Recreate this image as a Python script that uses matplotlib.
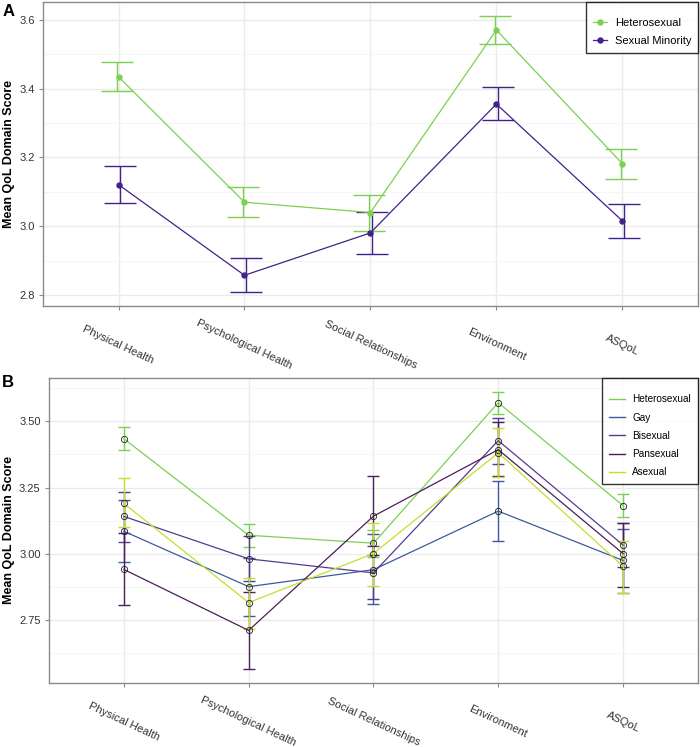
import numpy as np
import matplotlib
matplotlib.use("Agg")
import matplotlib.pyplot as plt
from matplotlib.ticker import MultipleLocator, FormatStrFormatter
from matplotlib.lines import Line2D

plt.rcParams['font.family'] = ['Liberation Sans', 'DejaVu Sans']

domains = ["Physical Health", "Psychological Health", "Social Relationships",
           "Environment", "ASQoL"]

# panel A: heterosexual vs sexual minority
het_mean = [3.434, 3.070, 3.040, 3.570, 3.182]
het_lo = [3.392, 3.027, 2.987, 3.529, 3.138]
het_hi = [3.477, 3.113, 3.090, 3.611, 3.225]
min_mean = [3.121, 2.858, 2.981, 3.355, 3.016]
min_lo = [3.069, 2.809, 2.920, 3.308, 2.966]
min_hi = [3.175, 2.907, 3.042, 3.403, 3.064]

# panel B: each orientation
gay_mean = [3.085, 2.876, 2.940, 3.161, 2.975]
gay_lo = [2.970, 2.765, 2.810, 3.048, 2.853]
gay_hi = [3.204, 2.985, 3.076, 3.276, 3.094]
bi_mean = [3.141, 2.981, 2.928, 3.427, 3.033]
bi_lo = [3.045, 2.896, 2.830, 3.340, 2.950]
bi_hi = [3.235, 3.066, 3.030, 3.513, 3.117]
pan_mean = [2.941, 2.711, 3.142, 3.393, 3.001]
pan_lo = [2.806, 2.565, 2.996, 3.293, 2.876]
pan_hi = [3.079, 2.857, 3.293, 3.496, 3.117]
ase_mean = [3.190, 2.816, 3.001, 3.381, 2.953]
ase_lo = [3.102, 2.715, 2.878, 3.290, 2.853]
ase_hi = [3.287, 2.907, 3.117, 3.475, 3.050]

C_HET = '#7AD151'
C_MIN = '#41228A'
C_GAY = '#3D5A9C'
C_BI = '#573A92'
C_PAN = '#4E1D5C'
C_ASE = '#C4DF2B'

x = np.arange(1, len(domains) + 1)


def style_axes(ax, minor_step):
    ax.set_xlim(0.4, len(domains) + 0.6)
    ax.set_xticks(x)
    ax.set_xticklabels(domains, rotation=-25, ha='center', va='center',
                       rotation_mode='default')
    ax.yaxis.set_minor_locator(MultipleLocator(minor_step))
    ax.grid(which='major', color='#EBEBEB', linewidth=1.0)
    ax.grid(which='minor', color='#F4F4F4', linewidth=0.6)
    ax.set_axisbelow(True)
    for s in ax.spines.values():
        s.set_color('#8A8A8A')
        s.set_linewidth(1.0)
    ax.tick_params(axis='both', which='major', length=3, color='#8A8A8A',
                   labelsize=8, labelcolor='#333333')
    ax.tick_params(axis='x', pad=25)
    ax.tick_params(axis='y', pad=3)
    ax.tick_params(which='minor', length=0)
    ax.set_ylabel('Mean QoL Domain Score', fontsize=9, fontweight='bold',
                  labelpad=3)


def set_ylim(ax, lows, highs):
    lo = min(min(l) for l in lows)
    hi = max(max(h) for h in highs)
    pad = 0.05 * (hi - lo)
    ax.set_ylim(lo - pad, hi + pad)


def frame_legend(leg):
    leg.get_frame().set_edgecolor('black')
    leg.get_frame().set_linewidth(1.0)


fig = plt.figure(figsize=(7, 7.47), dpi=100)

# ---- panel A
axA = fig.add_axes([0.0614, 0.5904, 0.9356, 0.4069])
groupsA = [("Heterosexual", het_mean, het_lo, het_hi, C_HET, -0.012),
           ("Sexual Minority", min_mean, min_lo, min_hi, C_MIN, 0.012)]
for name, m, lo, hi, col, dx in groupsA:
    m = np.array(m)
    err = [m - np.array(lo), np.array(hi) - m]
    axA.errorbar(x + dx, m, yerr=err, fmt='none', ecolor=col, elinewidth=1.0,
                 capsize=11.3, capthick=1.0, zorder=2)
    axA.plot(x, m, color=col, linewidth=0.9, marker='o', markersize=3.6,
             zorder=3)
style_axes(axA, 0.1)
axA.yaxis.set_major_locator(MultipleLocator(0.2))
set_ylim(axA, [het_lo, min_lo], [het_hi, min_hi])
handlesA = [Line2D([], [], color=c, linewidth=0.9, marker='o', markersize=3.6)
            for c in (C_HET, C_MIN)]
legA = axA.legend(handlesA, [g[0] for g in groupsA], loc='upper right',
                  fontsize=8, frameon=True, fancybox=False, borderaxespad=0,
                  handlelength=1.3, handletextpad=0.7, borderpad=0.6,
                  labelspacing=0.75, title=' ', title_fontsize=1.5)
frame_legend(legA)
fig.text(0.003, 0.995, 'A', fontsize=12, fontweight='bold', va='top',
         ha='left')

# ---- panel B
axB = fig.add_axes([0.070, 0.0857, 0.927, 0.4083])
groupsB = [("Heterosexual", het_mean, het_lo, het_hi, C_HET),
           ("Gay", gay_mean, gay_lo, gay_hi, C_GAY),
           ("Bisexual", bi_mean, bi_lo, bi_hi, C_BI),
           ("Pansexual", pan_mean, pan_lo, pan_hi, C_PAN),
           ("Asexual", ase_mean, ase_lo, ase_hi, C_ASE)]
for name, m, lo, hi, col in groupsB:
    m = np.array(m)
    err = [m - np.array(lo), np.array(hi) - m]
    axB.errorbar(x, m, yerr=err, fmt='none', ecolor=col, elinewidth=1.0,
                 capsize=4, capthick=1.0, zorder=2)
    axB.plot(x, m, color=col, linewidth=0.9, zorder=3)
for name, m, lo, hi, col in groupsB:
    axB.plot(x, m, linestyle='none', marker='o', markersize=4.5,
             markerfacecolor='none', markeredgecolor='#222222',
             markeredgewidth=0.6, zorder=4)
style_axes(axB, 0.125)
axB.yaxis.set_major_locator(MultipleLocator(0.25))
axB.yaxis.set_major_formatter(FormatStrFormatter('%.2f'))
set_ylim(axB, [g[2] for g in groupsB], [g[3] for g in groupsB])
handlesB = [Line2D([], [], color=g[4], linewidth=1.0) for g in groupsB]
legB = axB.legend(handlesB, [g[0] for g in groupsB], loc='upper right',
                  fontsize=7.2, frameon=True, fancybox=False, borderaxespad=0,
                  handlelength=1.6, handletextpad=0.7, borderpad=0.7,
                  labelspacing=0.83, title=' ', title_fontsize=1)
frame_legend(legB)
fig.text(0.003, 1 - 375 / 747, 'B', fontsize=12, fontweight='bold', va='top',
         ha='left')

fig.savefig('out.png', dpi=100)
